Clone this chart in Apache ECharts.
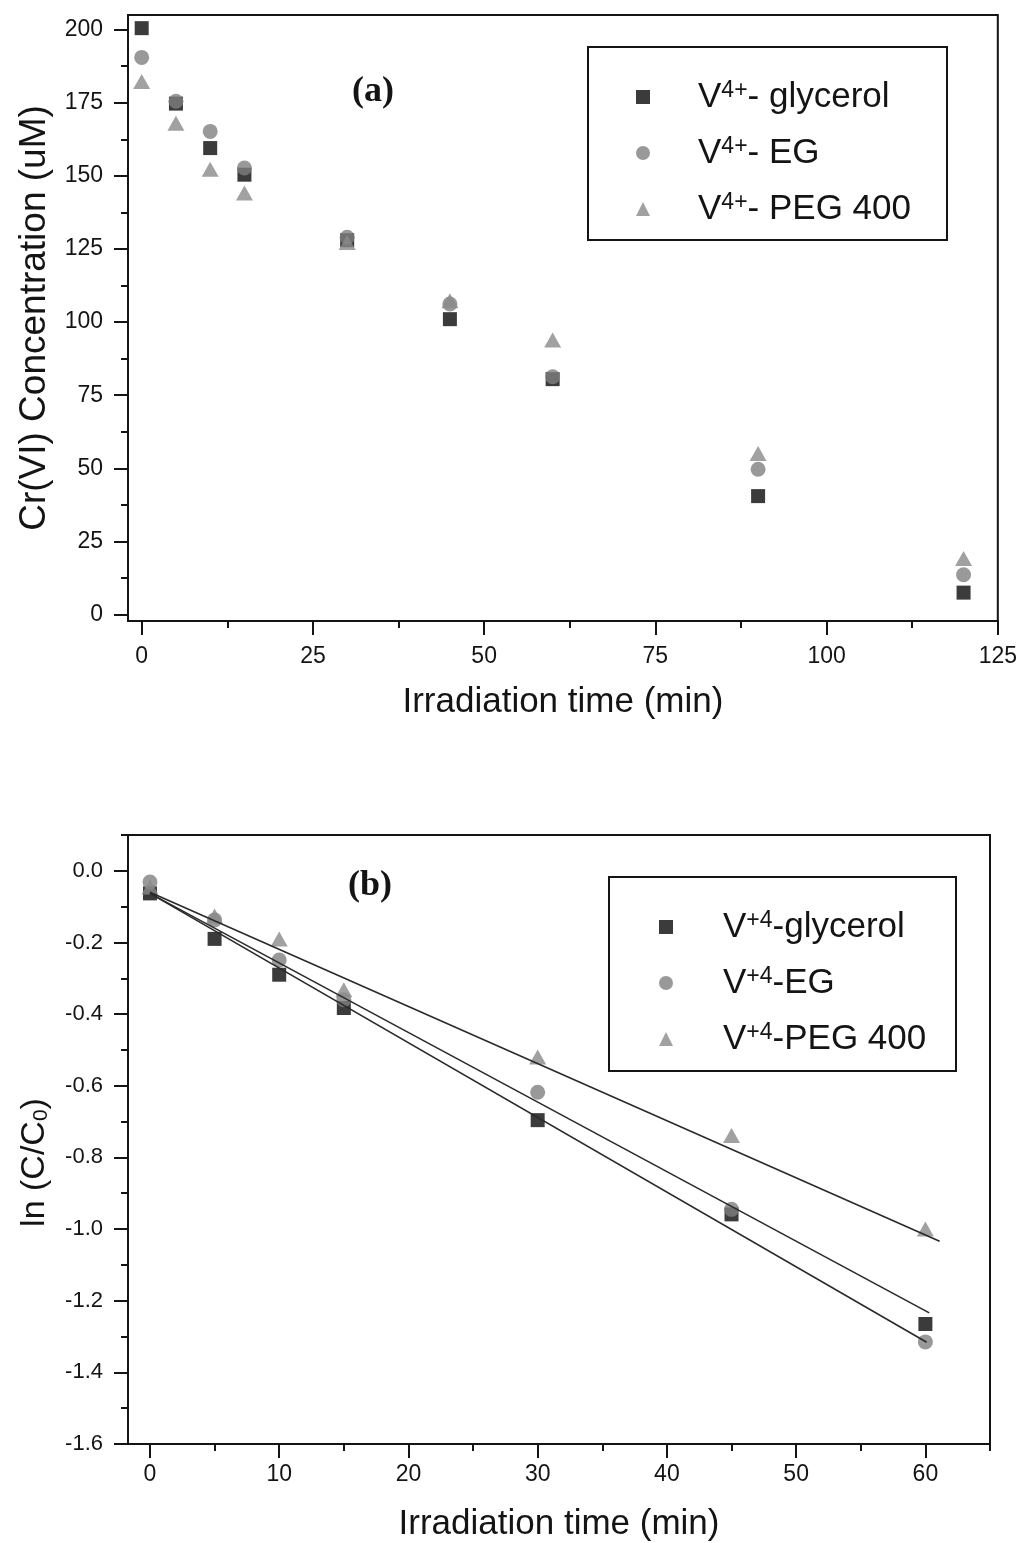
<!DOCTYPE html>
<html>
<head>
<meta charset="utf-8">
<title>Cr(VI) photoreduction</title>
<script src="https://cdn.jsdelivr.net/npm/echarts@6/dist/echarts.min.js"></script>
<style>
  html, body { margin: 0; padding: 0; background: #ffffff; }
  #chart { width: 1020px; height: 1543px; }
</style>
</head>
<body>
<div id="chart"></div>
<script>
// Panel (a): Cr(VI) concentration (uM) against irradiation time (min)
const timeA = [0, 5, 10, 15, 30, 45, 60, 90, 120];
const glycerolA = [200.5, 174.7, 159.5, 150.4, 128, 101, 80.5, 40.5, 7.5];
const egA = [190.5, 175.5, 165.2, 152.7, 129, 106.2, 81.3, 49.7, 13.6];
const pegA = [182.3, 168, 152.3, 144.1, 127.2, 107.3, 93.9, 55.1, 19.2];

// Panel (b): ln(C/C0) against irradiation time (min)
const timeB = [0, 5, 10, 15, 30, 45, 60];
const glycerolB = [-0.063, -0.19, -0.29, -0.383, -0.696, -0.959, -1.265];
const egB = [-0.031, -0.137, -0.249, -0.36, -0.618, -0.945, -1.315];
const pegB = [-0.045, -0.126, -0.19, -0.332, -0.52, -0.739, -1.0];

// Linear fit lines in panel (b), as [time, ln(C/C0)] end points
const fitUpper = [[0, -0.06], [61.1, -1.034]];
const fitMiddle = [[0, -0.063], [60.3, -1.234]];
const fitLower = [[0, -0.063], [60.1, -1.316]];

// Tick values
const ticksAx = [0, 25, 50, 75, 100, 125];
const minorAx = [12.5, 37.5, 62.5, 87.5, 112.5];
const ticksAy = [0, 25, 50, 75, 100, 125, 150, 175, 200];
const minorAy = [12.5, 37.5, 62.5, 87.5, 112.5, 137.5, 162.5, 187.5];
const ticksBx = [0, 10, 20, 30, 40, 50, 60];
const minorBx = [5, 15, 25, 35, 45, 55, 65];
const ticksBy = [0, -0.2, -0.4, -0.6, -0.8, -1.0, -1.2, -1.4, -1.6];
const minorBy = [0.1, -0.1, -0.3, -0.5, -0.7, -0.9, -1.1, -1.3, -1.5];

// Series names
const namesA = ['V4+- glycerol', 'V4+- EG', 'V4+- PEG 400'];
const namesB = ['V+4-glycerol', 'V+4-EG', 'V+4-PEG 400'];
const legendTextA = {
  'V4+- glycerol': '{v|V}{s|4+}{t|- glycerol}',
  'V4+- EG': '{v|V}{s|4+}{t|- EG}',
  'V4+- PEG 400': '{v|V}{s|4+}{t|- PEG 400}'
};
const legendTextB = {
  'V+4-glycerol': '{v|V}{s|+4}{t|-glycerol}',
  'V+4-EG': '{v|V}{s|+4}{t|-EG}',
  'V+4-PEG 400': '{v|V}{s|+4}{t|-PEG 400}'
};

const SANS = '"Liberation Sans", Arial, sans-serif';
const INK = '#141414';
const COL_SQ = '#0a0a0a';
const COL_CI = '#808080';
const COL_TR = '#8a8a8a';

const pairs = (xs, ys) => xs.map((x, i) => [x, ys[i]]);

const legendRich = {
  v: { fontFamily: SANS, fontSize: 35, lineHeight: 36, color: INK, verticalAlign: 'bottom' },
  s: { fontFamily: SANS, fontSize: 23, lineHeight: 20, color: INK, verticalAlign: 'top' },
  t: { fontFamily: SANS, fontSize: 35, lineHeight: 36, color: INK, verticalAlign: 'bottom' }
};

function mainAxis(dim, gridIndex, min, max, ticks, opts) {
  const isX = dim === 'x';
  return Object.assign({
    type: 'value',
    gridIndex: gridIndex,
    min: min,
    max: max,
    position: isX ? 'bottom' : 'left',
    splitLine: { show: false },
    axisLine: { show: true, onZero: false, lineStyle: { color: INK, width: 2 } },
    axisTick: { show: true, customValues: ticks, length: 14, inside: false, lineStyle: { color: INK, width: 2 } },
    axisLabel: { customValues: ticks, fontFamily: SANS, fontSize: 23, color: INK, margin: isX ? 24 : 25 },
    nameLocation: 'middle'
  }, opts);
}

function minorAxis(dim, gridIndex, min, max, ticks) {
  const isX = dim === 'x';
  return {
    type: 'value',
    gridIndex: gridIndex,
    min: min,
    max: max,
    position: isX ? 'bottom' : 'left',
    offset: 0,
    splitLine: { show: false },
    axisLine: { show: false, onZero: false },
    axisTick: { show: true, customValues: ticks, length: 7, inside: false, lineStyle: { color: INK, width: 2 } },
    axisLabel: { show: false }
  };
}

const chart = echarts.init(document.getElementById('chart'), null, { renderer: 'canvas' });

const option = {
  animation: false,
  backgroundColor: '#ffffff',
  grid: [
    { left: 128, top: 15, width: 870, height: 606, show: true, borderColor: INK, borderWidth: 2, backgroundColor: 'transparent' },
    { left: 128, top: 835, width: 862, height: 612, show: true, borderColor: INK, borderWidth: 2, backgroundColor: 'transparent' }
  ],
  xAxis: [
    mainAxis('x', 0, -2, 125, ticksAx, {
      name: 'Irradiation time (min)', nameGap: 64,
      nameTextStyle: { fontFamily: SANS, fontSize: 35, color: INK }
    }),
    minorAxis('x', 0, -2, 125, minorAx),
    mainAxis('x', 1, -1.7, 65, ticksBx, {
      name: 'Irradiation time (min)', nameGap: 63,
      axisLabel: { customValues: ticksBx, fontFamily: SANS, fontSize: 23, color: INK, margin: 19 },
      nameTextStyle: { fontFamily: SANS, fontSize: 35, color: INK }
    }),
    minorAxis('x', 1, -1.7, 65, minorBx)
  ],
  yAxis: [
    mainAxis('y', 0, -2.2, 205, ticksAy, {
      name: 'Cr(VI) Concentration (uM)', nameGap: 75,
      nameTextStyle: { fontFamily: SANS, fontSize: 37, color: INK }
    }),
    minorAxis('y', 0, -2.2, 205, minorAy),
    mainAxis('y', 1, -1.6, 0.1, ticksBy, {
      name: '{a|ln (C/C}{b|0}{a|)}', nameGap: 76,
      axisLabel: {
        customValues: ticksBy, fontFamily: SANS, fontSize: 22, color: INK, margin: 25,
        formatter: v => v.toFixed(1)
      },
      nameTextStyle: {
        fontFamily: SANS, fontSize: 34, color: INK, padding: [0, 46, 0, 0],
        rich: {
          a: { fontFamily: SANS, fontSize: 34, lineHeight: 40, color: INK, verticalAlign: 'bottom' },
          b: { fontFamily: SANS, fontSize: 21, lineHeight: 21, color: INK, verticalAlign: 'bottom' }
        }
      }
    }),
    minorAxis('y', 1, -1.6, 0.1, minorBy)
  ],
  legend: [
    {
      data: namesA, orient: 'vertical', left: 631, top: 74,
      itemWidth: 14, itemHeight: 14, itemGap: 20,
      textStyle: { fontFamily: SANS, fontSize: 35, color: INK, padding: [0, 0, 0, 43], rich: legendRich },
      formatter: n => legendTextA[n],
      selectedMode: false
    },
    {
      data: namesB, orient: 'vertical', left: 654, top: 904,
      itemWidth: 14, itemHeight: 14, itemGap: 20,
      textStyle: { fontFamily: SANS, fontSize: 35, color: INK, padding: [0, 0, 0, 45], rich: legendRich },
      formatter: n => legendTextB[n],
      selectedMode: false
    }
  ],
  graphic: [
    // legend frames
    { type: 'rect', shape: { x: 588, y: 47, width: 359, height: 193 }, style: { fill: 'none', stroke: INK, lineWidth: 2 }, z: 10 },
    { type: 'rect', shape: { x: 609, y: 877, width: 347, height: 194 }, style: { fill: 'none', stroke: INK, lineWidth: 2 }, z: 10 },
    // panel letters
    { type: 'text', x: 373, y: 92, style: { text: '(a)', font: 'bold 36px "Liberation Serif", "Times New Roman", serif', fill: INK, textAlign: 'center', textVerticalAlign: 'middle' }, z: 10 },
    { type: 'text', x: 370, y: 886, style: { text: '(b)', font: 'bold 36px "Liberation Serif", "Times New Roman", serif', fill: INK, textAlign: 'center', textVerticalAlign: 'middle' }, z: 10 }
  ],
  series: [
    { name: namesA[0], type: 'scatter', xAxisIndex: 0, yAxisIndex: 0, symbol: 'rect', symbolSize: 14, itemStyle: { color: COL_SQ }, data: pairs(timeA, glycerolA), z: 3 },
    { name: namesA[1], type: 'scatter', xAxisIndex: 0, yAxisIndex: 0, symbol: 'circle', symbolSize: 15, itemStyle: { color: COL_CI }, data: pairs(timeA, egA), z: 4 },
    { name: namesA[2], type: 'scatter', xAxisIndex: 0, yAxisIndex: 0, symbol: 'triangle', symbolSize: [17, 15], itemStyle: { color: COL_TR }, data: pairs(timeA, pegA), z: 5 },

    { name: namesB[0], type: 'scatter', xAxisIndex: 2, yAxisIndex: 2, symbol: 'rect', symbolSize: 14, itemStyle: { color: COL_SQ }, data: pairs(timeB, glycerolB), z: 3 },
    { name: namesB[1], type: 'scatter', xAxisIndex: 2, yAxisIndex: 2, symbol: 'circle', symbolSize: 15, itemStyle: { color: COL_CI }, data: pairs(timeB, egB), z: 4 },
    { name: namesB[2], type: 'scatter', xAxisIndex: 2, yAxisIndex: 2, symbol: 'triangle', symbolSize: [17, 15], itemStyle: { color: COL_TR }, data: pairs(timeB, pegB), z: 5 },

    { name: 'fit upper', type: 'line', xAxisIndex: 2, yAxisIndex: 2, data: fitUpper, symbol: 'none', lineStyle: { color: '#2a2a2a', width: 1.6 }, z: 6, silent: true },
    { name: 'fit middle', type: 'line', xAxisIndex: 2, yAxisIndex: 2, data: fitMiddle, symbol: 'none', lineStyle: { color: '#2a2a2a', width: 1.6 }, z: 6, silent: true },
    { name: 'fit lower', type: 'line', xAxisIndex: 2, yAxisIndex: 2, data: fitLower, symbol: 'none', lineStyle: { color: '#2a2a2a', width: 1.6 }, z: 6, silent: true }
  ]
};

chart.setOption(option);
</script>
</body>
</html>
